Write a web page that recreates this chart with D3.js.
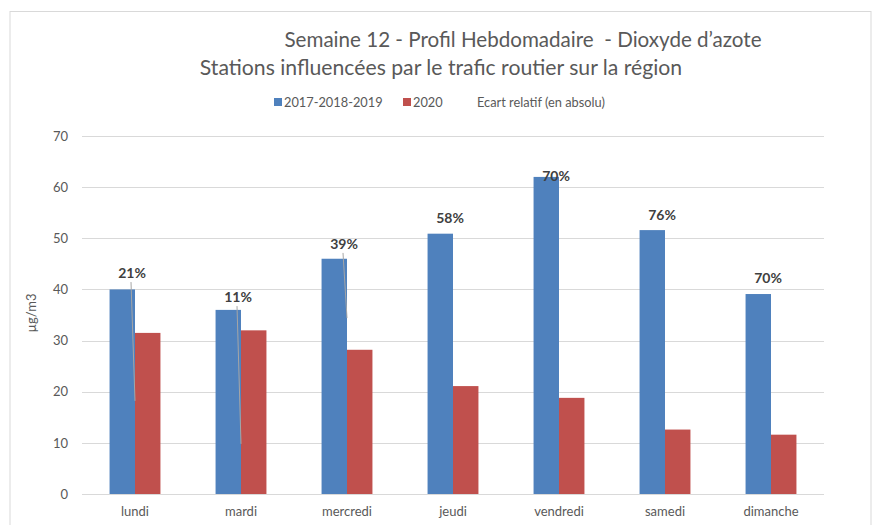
<html><body style="margin:0;background:#fff">
<head>
    <script src="https://d3js.org/d3.v7.min.js"></script>
</head>
<div id="chart"></div>
<script>
// weekly NO2 profile, week 12
const days = ["lundi", "mardi", "mercredi", "jeudi", "vendredi", "samedi", "dimanche"];
const ref3y = [40.0, 36.0, 46.0, 50.9, 62.0, 51.6, 39.1];     // 2017-2018-2019
const y2020 = [31.5, 32.0, 28.2, 21.1, 18.8, 12.6, 11.6];     // 2020
const ecartLabels = ["21%", "11%", "39%", "58%", "70%", "76%", "70%"];
const labelAt = [43.2, 38.5, 48.9, 54.0, 62.2, 54.6, 42.2];   // where excel left the labels (µg/m3)
const leaderTo = [18.2, 9.8, 34.4, null, null, null, null];   // hidden ecart points still linked
const yTicks = [0, 10, 20, 30, 40, 50, 60, 70];

const width = 875, height = 525;
const margin = {top: 136, right: 51, bottom: 31, left: 82};
const chartWidth = width - margin.left - margin.right;
const chartHeight = height - margin.top - margin.bottom;
const font = "Lato, 'Open Sans', sans-serif";
const grey = "#595959";

let svg = d3.select("#chart").append("svg")
    .attr("width", width)
    .attr("height", height)
    .style("font-family", font);

// chart frame
svg.append("rect")
    .attr("x", 10).attr("y", 11.5)
    .attr("width", 861).attr("height", 530)
    .attr("fill", "none")
    .attr("stroke", "#d9d9d9");

// titles
svg.append("text")
    .attr("x", 523).attr("y", 47)
    .attr("text-anchor", "middle")
    .attr("font-size", 20.6)
    .attr("fill", grey)
    .text("Semaine 12 - Profil Hebdomadaire \u00a0- Dioxyde d\u2019azote");
svg.append("text")
    .attr("x", 441).attr("y", 75)
    .attr("text-anchor", "middle")
    .attr("font-size", 21.2)
    .attr("fill", grey)
    .text("Stations influencées par le trafic routier sur la région");

// legend
let legend = svg.append("g").attr("font-size", 12.8).attr("fill", grey);
const legendItems = [
    {name: "2017-2018-2019", color: "#4f81bd", x: 274},
    {name: "2020", color: "#c0504d", x: 403},
    {name: "Ecart relatif (en absolu)", color: null, x: 467}
];
legendItems.forEach(d => {
    if (d.color) {
        legend.append("rect")
            .attr("x", d.x).attr("y", 98)
            .attr("width", 8).attr("height", 8)
            .attr("fill", d.color);
    }
    legend.append("text")
        .attr("x", d.x + 10).attr("y", 106.5)
        .text(d.name);
});

let chart = svg.append("g")
    .attr("transform", "translate(" + margin.left + "," + margin.top + ")");

let xScale = d3.scaleBand()
    .domain(days)
    .range([0, chartWidth])
    .paddingInner(0.52)
    .paddingOuter(0.26);

let subScale = d3.scaleBand()
    .domain([0, 1])
    .range([0, xScale.bandwidth()]);

let yScale = d3.scaleLinear()
    .domain([0, 70])
    .range([chartHeight, 0]);

// gridlines
chart.append("g")
    .selectAll("line")
    .data(yTicks)
    .join("line")
    .attr("x1", 0).attr("x2", chartWidth)
    .attr("y1", d => Math.round(yScale(d)) + 0.5)
    .attr("y2", d => Math.round(yScale(d)) + 0.5)
    .attr("stroke", "#d9d9d9")
    .attr("stroke-width", 1);

// y axis labels
let leftAxis = d3.axisLeft(yScale).tickValues(yTicks).tickSize(0).tickPadding(14);
let yAxis = chart.append("g").call(leftAxis);
yAxis.select(".domain").remove();
yAxis.selectAll("text")
    .attr("font-family", font)
    .attr("font-size", 13)
    .attr("fill", grey);

// x axis labels
let bottomAxis = d3.axisBottom(xScale).tickSize(0).tickPadding(13);
let xAxis = chart.append("g")
    .attr("transform", "translate(0," + chartHeight + ")")
    .call(bottomAxis);
xAxis.select(".domain").remove();
xAxis.selectAll("text")
    .attr("font-family", font)
    .attr("font-size", 13)
    .attr("fill", grey);

// y axis title
svg.append("text")
    .attr("transform", "translate(36,313) rotate(-90)")
    .attr("text-anchor", "middle")
    .attr("font-size", 13)
    .attr("fill", grey)
    .text("µg/m3");

// bars
const series = [ref3y, y2020];
const colors = ["#4f81bd", "#c0504d"];
series.forEach((vals, i) => {
    chart.append("g")
        .selectAll("rect")
        .data(days)
        .join("rect")
        .attr("x", d => xScale(d) + subScale(i))
        .attr("y", (d, j) => yScale(vals[j]))
        .attr("width", subScale.bandwidth())
        .attr("height", (d, j) => chartHeight - yScale(vals[j]))
        .attr("fill", colors[i]);
});

// leader lines for the moved labels
chart.append("g")
    .selectAll("line")
    .data(days.filter((d, j) => leaderTo[j] !== null))
    .join("line")
    .attr("x1", d => xScale(d) + xScale.bandwidth() / 2 - 4)
    .attr("y1", d => yScale(labelAt[days.indexOf(d)]) + 9)
    .attr("x2", d => xScale(d) + xScale.bandwidth() / 2)
    .attr("y2", d => yScale(leaderTo[days.indexOf(d)]))
    .attr("stroke", "#a6a6a6")
    .attr("stroke-width", 1);

// percentage labels
chart.append("g")
    .selectAll("text")
    .data(days)
    .join("text")
    .attr("x", d => xScale(d) + xScale.bandwidth() / 2 - 3)
    .attr("y", (d, j) => yScale(labelAt[j]) + 5)
    .attr("text-anchor", "middle")
    .attr("font-size", 14)
    .attr("font-weight", "bold")
    .attr("fill", "#404040")
    .text((d, j) => ecartLabels[j]);
</script>
</body></html>
